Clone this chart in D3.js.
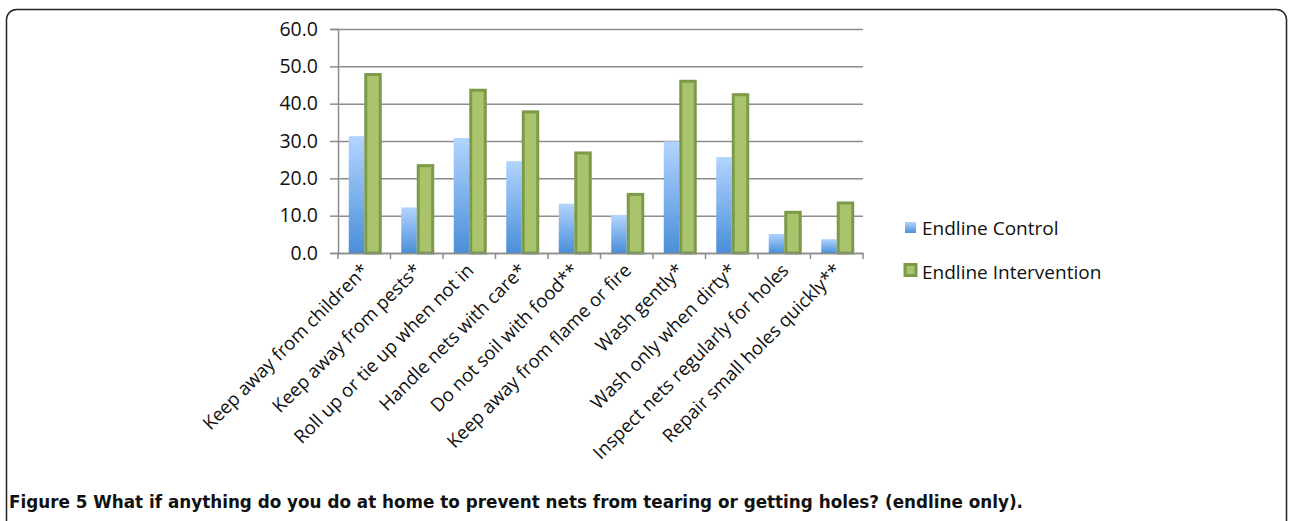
<!DOCTYPE html>
<html>
<head>
<meta charset="utf-8">
<script src="https://cdn.jsdelivr.net/npm/d3@7.9.0/dist/d3.min.js"></script>
<style>
  html, body { margin: 0; padding: 0; background: #fff; }
  svg { display: block; }
</style>
</head>
<body>
<div id="chart"></div>
<script>
/* ---------- data --------- */
const categories = [
  'Keep away from children*',
  'Keep away from pests*',
  'Roll up or tie up when not in',
  'Handle nets with care*',
  'Do not soil with food**',
  'Keep away from flame or fire',
  'Wash gently*',
  'Wash only when dirty*',
  'Inspect nets regularly for holes',
  'Repair small holes quickly**'
];
const seriesNames = ['Endline Control', 'Endline Intervention'];
const controlValues = [31.3, 12.2, 30.8, 24.6, 13.2, 10.2, 29.9, 25.7, 5.1, 3.7];
const interventionValues = [47.8, 23.4, 43.6, 37.8, 26.8, 15.7, 46.0, 42.4, 10.9, 13.4];
const yTicks = [0, 10, 20, 30, 40, 50, 60];
const caption = 'What if anything do you do at home to prevent nets from tearing or getting holes? (endline only).';

/* ---------- layout --------- */
const W = 1290, H = 521;
const area = { l: 338, r: 863, t: 29, b: 253 };

const svg = d3.select('#chart').append('svg')
  .attr('width', W).attr('height', H);

const defs = svg.append('defs');
const grad = defs.append('linearGradient')
  .attr('id', 'blueGrad').attr('x1', 0).attr('y1', 0).attr('x2', 0).attr('y2', 1);
grad.append('stop').attr('offset', '0%').attr('stop-color', '#b3d4ff');
grad.append('stop').attr('offset', '100%').attr('stop-color', '#4a8fd8');

// frame
svg.append('rect')
  .attr('x', 6.5).attr('y', 9.5).attr('width', 1280).attr('height', 540)
  .attr('rx', 10).attr('fill', 'none').attr('stroke', '#222').attr('stroke-width', 1.5);

const x0 = d3.scaleBand().domain(categories).range([area.l, area.r]).padding(0);
const groupW = 31;
const x1 = d3.scaleBand().domain(seriesNames).range([0, groupW]).padding(0);
const y = d3.scaleLinear().domain([0, 60]).range([area.b, area.t]);

// gridlines
svg.append('g')
  .attr('transform', `translate(${area.l},0)`)
  .call(d3.axisLeft(y).tickValues(yTicks).tickSize(-(area.r - area.l)).tickFormat(''))
  .call(g => g.select('.domain').remove())
  .call(g => g.selectAll('line').attr('stroke', '#8c8c8c').attr('stroke-width', 1.5));

// y axis
svg.append('g')
  .attr('transform', `translate(${area.l},0)`)
  .call(d3.axisLeft(y).tickValues(yTicks).tickSize(8).tickPadding(12).tickFormat(d3.format('.1f')))
  .call(g => g.select('.domain').attr('stroke', '#8c8c8c').attr('stroke-width', 1.5))
  .call(g => g.selectAll('line').attr('stroke', '#8c8c8c').attr('stroke-width', 1.5))
  .call(g => g.selectAll('text')
    .attr('fill', '#111').style('font-family', 'Open Sans, sans-serif').style('font-size', '19.5px'));

// bars
const rows = categories.map((c, i) => ({ cat: c, vals: [controlValues[i], interventionValues[i]] }));
const offset = (x0.bandwidth() - groupW) / 2;
const groups = svg.append('g').selectAll('g').data(rows).join('g')
  .attr('transform', d => `translate(${x0(d.cat) + offset},0)`);

groups.selectAll('rect')
  .data(d => d.vals.map((v, i) => ({ s: seriesNames[i], v })))
  .join('rect')
  .attr('x', d => x1(d.s) + (d.s === seriesNames[1] ? 1.5 : 0))
  .attr('width', d => d.s === seriesNames[1] ? x1.bandwidth() - 1 : x1.bandwidth())
  .attr('y', d => y(d.v))
  .attr('height', d => y(0) - y(d.v))
  .attr('fill', d => d.s === seriesNames[0] ? 'url(#blueGrad)' : '#a9c46c')
  .attr('stroke', d => d.s === seriesNames[0] ? 'none' : '#7b9a4a')
  .attr('stroke-width', 3);

// x axis
svg.append('g')
  .attr('transform', `translate(0,${area.b})`)
  .call(d3.axisBottom(x0).tickSize(0).tickFormat(''))
  .call(g => g.select('.domain').attr('stroke', '#8c8c8c').attr('stroke-width', 1.5));

const bounds = categories.map(c => x0(c)).concat([area.r]);
svg.append('g').selectAll('line').data(bounds).join('line')
  .attr('x1', d => d).attr('x2', d => d)
  .attr('y1', area.b).attr('y2', area.b + 6)
  .attr('stroke', '#8c8c8c').attr('stroke-width', 1.5);

// category labels
svg.append('g').selectAll('text').data(categories).join('text')
  .attr('transform', d => `translate(${x0(d) + x0.bandwidth() / 2 + 1},${area.b + 14}) rotate(-45)`)
  .attr('text-anchor', 'end')
  .attr('dy', '0.35em')
  .attr('fill', '#111')
  .style('font-family', 'Open Sans, sans-serif')
  .style('font-size', '18.6px')
  .text(d => d);

// legend
const legend = svg.append('g').attr('transform', 'translate(905,0)');
legend.append('rect').attr('x', 0).attr('y', 222).attr('width', 11).attr('height', 11)
  .attr('fill', 'url(#blueGrad)');
legend.append('rect').attr('x', 0).attr('y', 264.5).attr('width', 11).attr('height', 11)
  .attr('fill', '#a9c46c').attr('stroke', '#7b9a4a').attr('stroke-width', 3);
legend.selectAll('text').data(seriesNames).join('text')
  .attr('x', 17)
  .attr('y', (d, i) => 228 + i * 44)
  .attr('dy', '0.35em')
  .attr('fill', '#111')
  .style('font-family', 'Open Sans, sans-serif')
  .style('font-size', '19px')
  .text(d => d);

// caption
const cap = svg.append('text')
  .attr('x', 9).attr('y', 508)
  .attr('fill', '#111')
  .style('font-family', 'Liberation Sans Narrow, DejaVu Sans Condensed, sans-serif')
  .style('font-weight', 'bold')
  .style('font-size', '18px');
cap.append('tspan').text('Figure 5 ');
cap.append('tspan').text(caption);
cap.attr('textLength', 1014).attr('lengthAdjust', 'spacingAndGlyphs');
</script>
</body>
</html>
